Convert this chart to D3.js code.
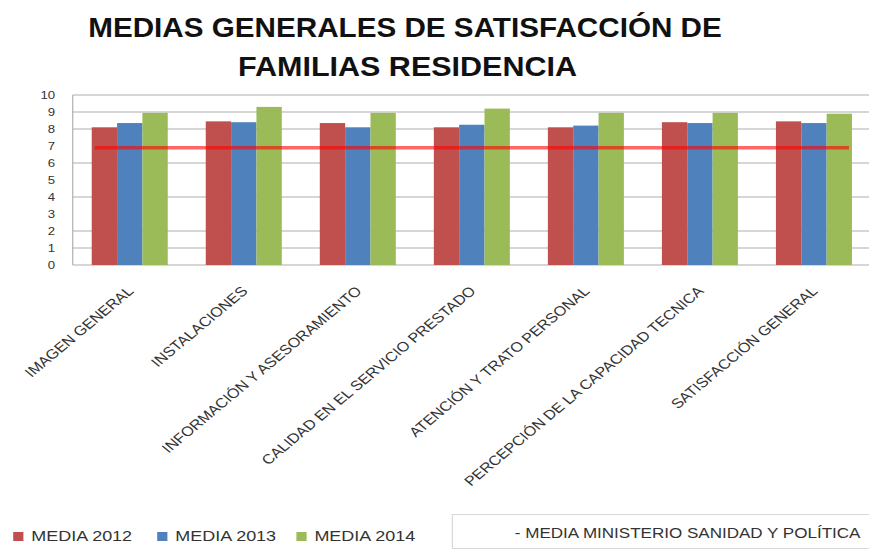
<!DOCTYPE html>
<head>
<style>
body { margin: 0; background: #fff; }
* { font-family: "Liberation Sans", Arial, sans-serif; }
</style>
</head>
<body>
<svg width="869" height="551"></svg>
<script src="https://d3js.org/d3.v7.min.js"></script>
<script>

var categorias = ["IMAGEN GENERAL", "INSTALACIONES", "INFORMACIÓN Y ASESORAMIENTO",
  "CALIDAD EN EL SERVICIO PRESTADO", "ATENCIÓN Y TRATO PERSONAL",
  "PERCEPCIÓN DE LA CAPACIDAD TECNICA", "SATISFACCIÓN GENERAL"];
var series = ["MEDIA 2012", "MEDIA 2013", "MEDIA 2014"];
var media2012 = [8.1, 8.45, 8.35, 8.1, 8.1, 8.4, 8.45];
var media2013 = [8.35, 8.4, 8.1, 8.25, 8.2, 8.35, 8.35];
var media2014 = [8.95, 9.3, 8.95, 9.2, 8.95, 8.95, 8.9];
var mediaMinisterio = 6.9;
var yTicks = [0, 1, 2, 3, 4, 5, 6, 7, 8, 9, 10];
var gridTicks = [0, 1, 2, 4, 6, 8, 9, 10];   // las que se ven en la imagen
var colores = ["#c0504d", "#4f81bd", "#9bbb59"];

var valores = [media2012, media2013, media2014];
var data = categorias.map(function(c, i) {
  return { cat: c, vals: valores.map(function(v) { return v[i]; }) };
});

// la imagen original está estirada en horizontal (~1.2)
var sx = 1.2;
var svg = d3.select("svg");
var g = svg.append("g").attr("transform", "scale(" + sx + ",1)");

var x = d3.scaleBand()
    .domain(categorias)
    .range([60.6, 725.8])
    .paddingInner(1 / 3)
    .paddingOuter(1 / 6);

var xs = d3.scaleBand()
    .domain(series)
    .range([0, x.bandwidth()]);

var y = d3.scaleLinear()
    .domain([0, 10])
    .range([265, 95]);

// titulo
g.append("text")
    .attr("x", 337.5).attr("y", 37)
    .attr("text-anchor", "middle")
    .attr("font-size", 27).attr("font-weight", "bold").attr("fill", "#111")
    .attr("textLength", 528).attr("lengthAdjust", "spacingAndGlyphs")
    .text("MEDIAS GENERALES DE SATISFACCIÓN DE");
g.append("text")
    .attr("x", 339.6).attr("y", 76)
    .attr("text-anchor", "middle")
    .attr("font-size", 27).attr("font-weight", "bold").attr("fill", "#111")
    .attr("textLength", 282.5).attr("lengthAdjust", "spacingAndGlyphs")
    .text("FAMILIAS RESIDENCIA");

// rejilla
g.append("g").selectAll("line")
  .data(gridTicks)
  .enter().append("line")
    .attr("x1", 60.6).attr("x2", 730)
    .attr("y1", function(d) { return y(d); })
    .attr("y2", function(d) { return y(d); })
    .attr("stroke", "#c8c8c8").attr("stroke-width", 1.3);

g.append("line")
    .attr("x1", 60.6).attr("x2", 60.6)
    .attr("y1", y(10)).attr("y2", y(0))
    .attr("stroke", "#b0b0b0").attr("stroke-width", 1);

// eje y
g.append("g").selectAll("text")
  .data(yTicks)
  .enter().append("text")
    .attr("x", 46).attr("y", function(d) { return y(d); })
    .attr("dy", "0.35em")
    .attr("text-anchor", "end")
    .attr("font-size", 11).attr("fill", "#333")
    .text(function(d) { return d; });

// barras
var grupo = g.append("g").selectAll("g")
  .data(data)
  .enter().append("g")
    .attr("transform", function(d) { return "translate(" + x(d.cat) + ",0)"; });

grupo.selectAll("rect")
  .data(function(d) { return d.vals.map(function(v, i) { return { s: series[i], v: v, i: i }; }); })
  .enter().append("rect")
    .attr("x", function(d) { return xs(d.s); })
    .attr("y", function(d) { return y(d.v); })
    .attr("width", xs.bandwidth())
    .attr("height", function(d) { return y(0) - y(d.v); })
    .attr("fill", function(d) { return colores[d.i]; });

// linea media ministerio
g.append("line")
    .attr("x1", x(categorias[0]) + 2.5)
    .attr("x2", x(categorias[categorias.length - 1]) + x.bandwidth() - 2.5)
    .attr("y1", y(mediaMinisterio)).attr("y2", y(mediaMinisterio))
    .attr("stroke", "#ff0000").attr("stroke-opacity", 0.6).attr("stroke-width", 3.5);

// etiquetas x
g.append("g").selectAll("text")
  .data(categorias)
  .enter().append("text")
    .attr("transform", function(d) {
      return "translate(" + (x(d) + x.bandwidth() / 2 + 4) + ",292) rotate(-45)";
    })
    .attr("text-anchor", "end")
    .attr("font-size", 13.5).attr("fill", "#333")
    .text(function(d) { return d; });

// leyenda
var ley = g.append("g").selectAll("g")
  .data(series)
  .enter().append("g")
    .attr("transform", function(d, i) { return "translate(" + [11, 131, 247][i] + ",0)"; });
ley.append("rect")
    .attr("x", 0).attr("y", 532).attr("width", 8.5).attr("height", 9)
    .attr("fill", function(d, i) { return colores[i]; });
ley.append("text")
    .attr("x", 15).attr("y", 541.5)
    .attr("font-size", 15).attr("fill", "#333")
    .text(function(d) { return d; });

g.append("rect")
    .attr("x", 377).attr("y", 514.5).attr("width", 360).attr("height", 34)
    .attr("fill", "none").attr("stroke", "#d9d9d9").attr("stroke-width", 1);
g.append("text")
    .attr("x", 429).attr("y", 538.5)
    .attr("font-size", 14.2).attr("fill", "#333")
    .text("- MEDIA MINISTERIO SANIDAD Y POLÍTICA");

</script>
</body>
